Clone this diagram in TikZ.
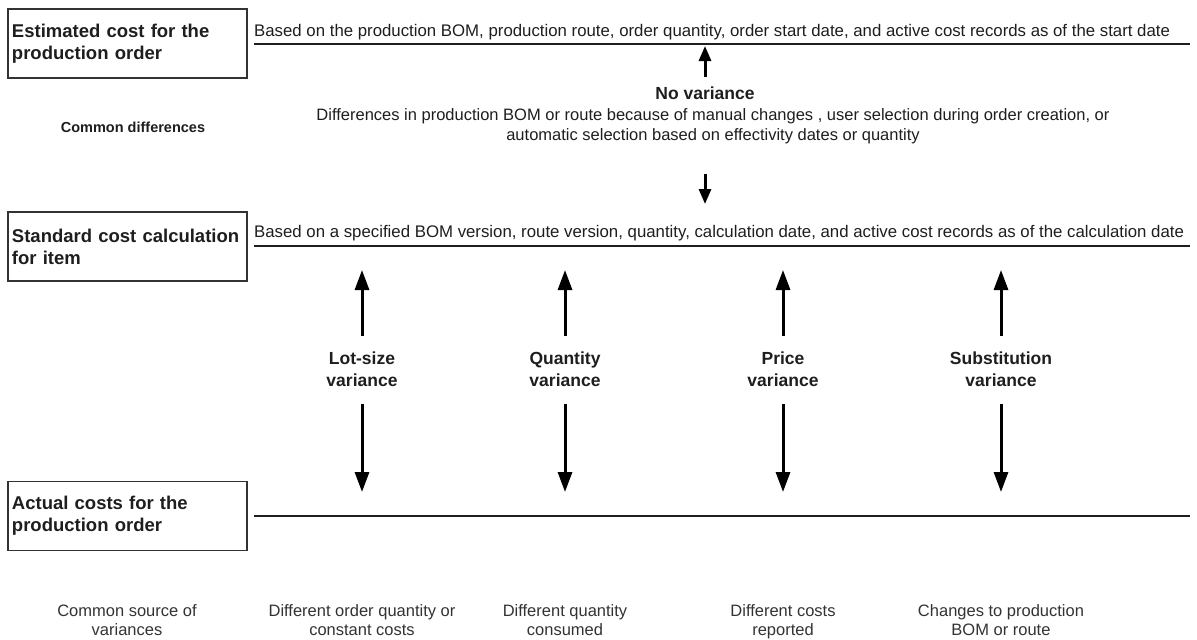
\documentclass[tikz,border=0pt]{standalone}
\usepackage{fontspec}
\setmainfont{Liberation Sans}
\usetikzlibrary{arrows.meta}
\definecolor{ink}{HTML}{1E1E1E}
\definecolor{soft}{HTML}{333333}
\begin{document}
\begin{tikzpicture}[x=1pt,y=-1pt,
  hdrbox/.style={draw=soft, line width=1.2pt, minimum width=239pt, minimum height=69pt,
    text width=231pt, align=left, inner sep=3pt, text=ink,
    font=\fontsize{18.5}{22}\selectfont\bfseries},
  basetext/.style={anchor=base west, inner sep=0pt, text=ink, font=\fontsize{16.8}{20}\selectfont},
  hline/.style={draw=ink, line width=2.2pt},
  varlabel/.style={align=center, text=ink, inner sep=0pt, font=\fontsize{17.5}{22}\selectfont\bfseries},
  srclabel/.style={align=center, text=soft, inner sep=0pt, anchor=base, font=\fontsize{16.5}{19}\selectfont},
  varr/.style={draw=black, line width=3pt, -{Triangle[width=14pt,length=20pt]}},
  smarr/.style={draw=black, line width=3pt, -{Triangle[width=12pt,length=15pt]}}
]
\useasboundingbox (0,0) rectangle (1197,640);

% header boxes
\node[hdrbox] (est) at (127.5,43.5) {Estimated cost for the\\production order};
\node[hdrbox] (std) at (127.5,246.5) {Standard cost calculation\\for item};
\node[hdrbox] (act) at (127.5,516) {Actual costs for the\\production order};

% lines and their texts
\coordinate (e1) at (254,44);  \coordinate (e2) at (1190,44);
\coordinate (s1) at (254,246); \coordinate (s2) at (1190,246);
\coordinate (a1) at (254,516); \coordinate (a2) at (1190,516);
\draw[hline] (e1) -- (e2);
\draw[hline] (s1) -- (s2);
\draw[hline] (a1) -- (a2);
\node[basetext] (etext) at (254,36) {Based on the production BOM, production route, order quantity, order start date, and active cost records as of the start date};
\node[basetext] (stext) at (254,237) {Based on a specified BOM version, route version, quantity, calculation date, and active cost records as of the calculation date};

% no variance
\node[varlabel] (nov) at (705,93) {No variance};
\node[align=center, text=ink, inner sep=0pt, font=\fontsize{16.5}{19.5}\selectfont] (diff) at (713,126) {Differences in production BOM or route because of manual changes , user selection during order creation, or\\automatic selection based on effectivity dates or quantity};
\node[varlabel, font=\fontsize{14.5}{20}\selectfont\bfseries] (comdiff) at (133,127) {Common differences};
\coordinate (nvtop) at (705,46);
\coordinate (nvbot) at (705,204);
\draw[smarr] (nov.north |- 0,77) -- (nvtop);
\draw[smarr] (nov.north |- 0,174) -- (nvbot);

% variances
\foreach \n/\x/\t in {lot/362/{Lot-size\\variance}, qty/565/{Quantity\\variance}, prc/783/{Price\\variance}, sub/1001/{Substitution\\variance}}{
  \node[varlabel] (\n) at (\x,369) {\t};
  \coordinate (\n up) at (\x,270);
  \coordinate (\n dn) at (\x,492);
  \draw[varr] (\n.north |- 0,336) -- (\n up);
  \draw[varr] (\n.south |- 0,404) -- (\n dn);
}

% sources
\node[srclabel] (csrc) at (127,635) {Common source of\\variances};
\node[srclabel] (lsrc) at (362,635) {Different order quantity or\\constant costs};
\node[srclabel] (qsrc) at (565,635) {Different quantity\\consumed};
\node[srclabel] (psrc) at (783,635) {Different costs\\reported};
\node[srclabel] (ssrc) at (1001,635) {Changes to production\\BOM or route};
\end{tikzpicture}
\end{document}
